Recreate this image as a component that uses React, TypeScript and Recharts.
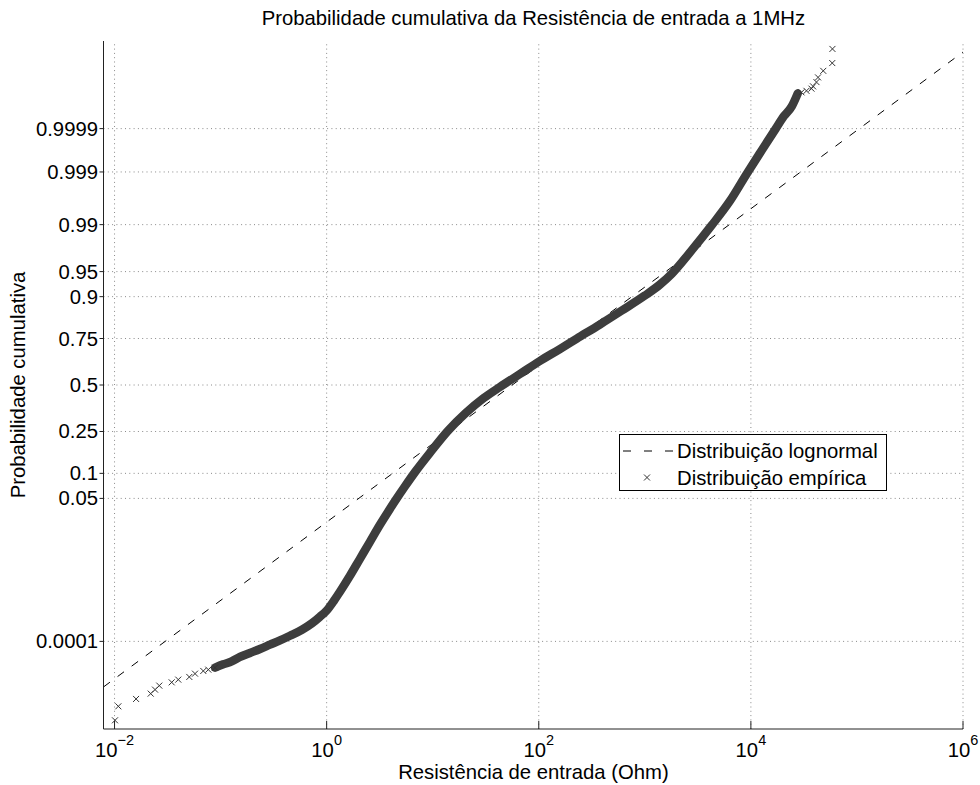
import React from 'react';
import { ComposedChart, XAxis, YAxis, ReferenceLine, Line, Scatter, Legend } from 'recharts';

// Resistência de entrada (Ohm) e quantil normal padrão de cada ponto empírico
const caudaInferiorOhm = [0.0101, 0.01086, 0.01596, 0.02193, 0.0241, 0.02642, 0.03459, 0.0399, 0.0507, 0.0574, 0.0687, 0.0766, 0.0886];
const caudaInferiorQuantil = [-4.864, -4.661, -4.554, -4.477, -4.419, -4.361, -4.313, -4.274, -4.235, -4.187, -4.148, -4.129, -4.1];

const curvaOhm = [
  0.0886, 0.106, 0.1272, 0.1524, 0.1893, 0.2351, 0.2921, 0.3629, 0.4508, 0.5852, 0.727, 0.8646, 1.0065,
  1.1716, 1.3344, 1.6584, 2.06, 2.559, 3.18, 3.951, 4.599, 5.47, 6.946, 9.41, 13.91, 20.55, 30.38, 42.99,
  66.36, 102.4, 158.1, 228.6, 376.6, 607.2, 1000, 1385, 1797, 2773, 4281, 6326, 9150, 12670, 17170, 20420,
  24290, 27670,
];
const curvaQuantil = [
  -4.1, -4.052, -4.009, -3.945, -3.887, -3.829, -3.767, -3.705, -3.637, -3.55, -3.456, -3.361, -3.267,
  -3.13, -2.999, -2.767, -2.521, -2.275, -2.028, -1.797, -1.642, -1.471, -1.246, -0.985, -0.666, -0.406,
  -0.188, -0.029, 0.159, 0.348, 0.522, 0.674, 0.877, 1.08, 1.297, 1.456, 1.615, 1.956, 2.318, 2.666,
  3.065, 3.405, 3.719, 3.897, 4.042, 4.231,
];

const caudaSuperiorOhm = [29990, 33420, 37260, 38570, 41530, 42990, 48130, 58520, 58750];
const caudaSuperiorQuantil = [4.245, 4.267, 4.299, 4.332, 4.394, 4.462, 4.557, 4.67, 4.875];

// Reta da distribuição lognormal ajustada (extremos do eixo)
const lognormalOhm = [0.00787, 1e6];
const lognormalQuantil = [-4.38, 4.83];

const xTicks = [1e-2, 1e0, 1e2, 1e4, 1e6];
const xTickExpoentes = ['\u22122', '0', '2', '4', '6'];
const yTickRotulos = ['0.0001', '0.05', '0.1', '0.25', '0.5', '0.75', '0.9', '0.95', '0.99', '0.999', '0.9999'];

const xDominio: [number, number] = [0.00787, 1e6];
const yDominio: [number, number] = [-4.99, 4.99];

// Inversa da normal padrão (algoritmo de Acklam)
function probit(p: number): number {
  const a = [-3.969683028665376e1, 2.209460984245205e2, -2.759285104469687e2, 1.38357751867269e2, -3.066479806614716e1, 2.506628277459239];
  const b = [-5.447609879822406e1, 1.615858368580409e2, -1.556989798598866e2, 6.680131188771972e1, -1.328068155288572e1];
  const c = [-7.784894002430293e-3, -3.223964580411365e-1, -2.400758277161838, -2.549732539343734, 4.374664141464968, 2.938163982698783];
  const d = [7.784695709041462e-3, 3.224671290700398e-1, 2.445134137142996, 3.754408661907416];
  const pLow = 0.02425;
  if (p < pLow) {
    const q = Math.sqrt(-2 * Math.log(p));
    return (((((c[0] * q + c[1]) * q + c[2]) * q + c[3]) * q + c[4]) * q + c[5]) / ((((d[0] * q + d[1]) * q + d[2]) * q + d[3]) * q + 1);
  }
  if (p <= 1 - pLow) {
    const q = p - 0.5;
    const r = q * q;
    return ((((((a[0] * r + a[1]) * r + a[2]) * r + a[3]) * r + a[4]) * r + a[5]) * q) / (((((b[0] * r + b[1]) * r + b[2]) * r + b[3]) * r + b[4]) * r + 1);
  }
  const q = Math.sqrt(-2 * Math.log(1 - p));
  return -(((((c[0] * q + c[1]) * q + c[2]) * q + c[3]) * q + c[4]) * q + c[5]) / ((((d[0] * q + d[1]) * q + d[2]) * q + d[3]) * q + 1);
}

const yTicks = yTickRotulos.map((s) => probit(Number(s)));

const pares = (ohm: number[], quantil: number[]) => ohm.map((r, i) => ({ r, z: quantil[i] }));
const dadosCaudaInferior = pares(caudaInferiorOhm, caudaInferiorQuantil);
const dadosCurva = pares(curvaOhm, curvaQuantil);
const dadosCaudaSuperior = pares(caudaSuperiorOhm, caudaSuperiorQuantil);
const dadosLognormal = pares(lognormalOhm, lognormalQuantil);

const FONTE = '"Liberation Sans", Arial, Helvetica, sans-serif';
const TAM = 20.3;
const COR_EMPIRICA = '#3d3d3d';
const COR_GRADE = '#8a8a8a';
const TRACO_GRADE = '1 3.3';

const XTick = (props: any) => {
  const { x, y, index } = props;
  return (
    <g>
      <line x1={x} y1={y} x2={x} y2={y - 8} stroke="#222" strokeWidth={1} />
      <text x={x} y={y + 28} textAnchor="middle" fontFamily={FONTE} fontSize={TAM} fill="#000">
        <tspan>10</tspan>
        <tspan fontSize={14.5} dy={-12}>{xTickExpoentes[index]}</tspan>
      </text>
    </g>
  );
};

const YTick = (props: any) => {
  const { x, y, index } = props;
  return (
    <g>
      <line x1={x - 4} y1={y} x2={x} y2={y} stroke="#222" strokeWidth={1} />
      <text x={x - 5.5} y={y + 7} textAnchor="end" fontFamily={FONTE} fontSize={TAM} fill="#000">
        {yTickRotulos[index]}
      </text>
    </g>
  );
};

const Marcador = (props: any) => {
  const { cx, cy } = props;
  if (cx == null || cy == null) return null;
  const s = 3;
  return (
    <g stroke="#333" strokeWidth={1}>
      <line x1={cx - s} y1={cy - s} x2={cx + s} y2={cy + s} />
      <line x1={cx - s} y1={cy + s} x2={cx + s} y2={cy - s} />
    </g>
  );
};

const Legenda = () => (
  <div
    style={{
      width: 268,
      height: 57,
      boxSizing: 'border-box',
      border: '1px solid #000',
      background: '#fff',
      position: 'relative',
    }}
  >
    <svg width={268} height={57} style={{ position: 'absolute', left: -1, top: -1 }}>
      <line x1={4} y1={17} x2={54} y2={17} stroke="#000" strokeWidth={1} strokeDasharray="8 13" />
      <text x={58} y={24} fontFamily={FONTE} fontSize={TAM} fill="#000">Distribuição lognormal</text>
      <g stroke="#333" strokeWidth={1}>
        <line x1={25} y1={40.5} x2={31} y2={46.5} />
        <line x1={25} y1={46.5} x2={31} y2={40.5} />
      </g>
      <text x={58} y={50.5} fontFamily={FONTE} fontSize={TAM} fill="#000">Distribuição empírica</text>
    </svg>
  </div>
);

export default function App() {
  return (
    <div style={{ position: 'absolute', left: 0, top: 0, width: 980, height: 785, background: '#fff' }}>
      <ComposedChart width={980} height={785} margin={{ top: 41, right: 17, bottom: 0, left: 0 }}>
        <XAxis
          type="number"
          dataKey="r"
          scale="log"
          domain={xDominio}
          ticks={xTicks}
          interval={0}
          allowDataOverflow
          height={56}
          tickSize={0}
          tickMargin={0}
          tickLine={false}
          axisLine={{ stroke: '#222', strokeWidth: 1 }}
          tick={<XTick />}
        />
        <YAxis
          type="number"
          dataKey="z"
          domain={yDominio}
          ticks={yTicks}
          interval={0}
          allowDataOverflow
          width={103.5}
          tickSize={0}
          tickMargin={0}
          tickLine={false}
          axisLine={{ stroke: '#222', strokeWidth: 1 }}
          tick={<YTick />}
        />
        {yTicks.map((t) => (
          <ReferenceLine key={`h${t}`} y={t} stroke={COR_GRADE} strokeDasharray={TRACO_GRADE} ifOverflow="extendDomain" />
        ))}
        {xTicks.map((t) => (
          <ReferenceLine key={`v${t}`} x={t} stroke={COR_GRADE} strokeDasharray={TRACO_GRADE} ifOverflow="extendDomain" />
        ))}
        <Line
          data={dadosLognormal}
          dataKey="z"
          type="linear"
          stroke="#000"
          strokeWidth={1}
          strokeDasharray="8 9.5"
          dot={false}
          isAnimationActive={false}
        />
        <Line
          data={dadosCurva}
          dataKey="z"
          type="monotone"
          stroke={COR_EMPIRICA}
          strokeWidth={8.5}
          strokeLinecap="round"
          dot={false}
          isAnimationActive={false}
        />
        <Scatter data={dadosCaudaInferior} dataKey="z" shape={<Marcador />} isAnimationActive={false} />
        <Scatter data={dadosCaudaSuperior} dataKey="z" shape={<Marcador />} isAnimationActive={false} />
        <Legend
          layout="vertical"
          align="center"
          verticalAlign="middle"
          content={<Legenda />}
          wrapperStyle={{ position: 'absolute', left: 619, top: 434, width: 268, height: 57 }}
        />
      </ComposedChart>
      <svg width={980} height={785} style={{ position: 'absolute', left: 0, top: 0, pointerEvents: 'none' }}>
        <text x={533.4} y={25} textAnchor="middle" fontFamily={FONTE} fontSize={TAM} fill="#000">
          Probabilidade cumulativa da Resistência de entrada a 1MHz
        </text>
        <text x={533.4} y={779} textAnchor="middle" fontFamily={FONTE} fontSize={TAM} fill="#000">
          Resistência de entrada (Ohm)
        </text>
        <text x={25} y={385} textAnchor="middle" fontFamily={FONTE} fontSize={TAM} fill="#000" transform="rotate(-90 25 385)">
          Probabilidade cumulativa
        </text>
      </svg>
    </div>
  );
}
